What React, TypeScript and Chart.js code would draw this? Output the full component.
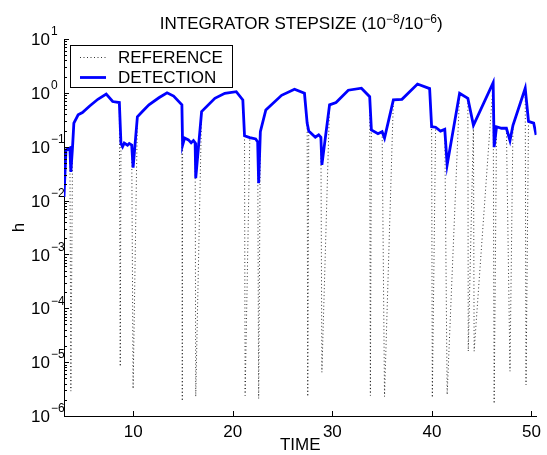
import { useEffect, useRef } from 'react';
import { Chart, registerables } from 'chart.js';

Chart.register(...registerables);

const FONT = "Arial, 'Liberation Sans', Helvetica, sans-serif";

const detectionTime = [3.05, 3.25, 3.64, 3.74, 3.91, 4.04, 4.47, 4.9, 5.63, 6.45, 7.29, 7.94, 8.61, 8.77, 8.93, 9.1, 9.43, 9.6, 9.85, 9.99, 10.42, 10.92, 11.58, 12.58, 13.4, 14.06, 14.89, 14.96, 15.16, 15.55, 15.82, 16.05, 16.22, 16.28, 16.87, 18.2, 19.2, 20.35, 21.01, 21.18, 21.71, 22.3, 22.5, 22.6, 22.77, 23.32, 24.9, 26.2, 27.2, 27.47, 27.63, 28.29, 28.63, 28.85, 28.95, 29.72, 30.37, 31.6, 32.92, 33.75, 33.92, 34.58, 35.0, 35.24, 36.13, 36.99, 38.55, 39.77, 39.97, 40.37, 40.86, 41.29, 41.53, 42.78, 43.61, 44.17, 46.15, 46.25, 46.49, 46.99, 47.48, 47.84, 48.14, 49.37, 49.7, 50.22, 50.46];
const detectionH = [0.0117, 0.087, 0.095, 0.034, 0.1, 0.275, 0.39, 0.43, 0.57, 0.76, 0.95, 0.69, 0.66, 0.115, 0.1, 0.117, 0.107, 0.115, 0.107, 0.041, 0.36, 0.45, 0.6, 0.81, 1.0, 0.87, 0.6, 0.107, 0.145, 0.134, 0.118, 0.13, 0.118, 0.026, 0.45, 0.79, 0.98, 1.05, 0.74, 0.16, 0.148, 0.139, 0.123, 0.021, 0.19, 0.48, 0.9, 1.17, 0.98, 0.275, 0.195, 0.15, 0.166, 0.15, 0.046, 0.6, 0.66, 1.12, 1.22, 0.85, 0.205, 0.174, 0.19, 0.144, 0.74, 0.76, 1.46, 1.2, 0.235, 0.23, 0.195, 0.21, 0.046, 0.98, 0.79, 0.25, 1.55, 0.098, 0.235, 0.22, 0.22, 0.13, 0.25, 1.22, 0.295, 0.275, 0.166];

const referenceTime = [3.05, 3.25, 3.64, 3.74, 3.91, 4.04, 4.47, 4.9, 5.63, 6.45, 7.29, 7.94, 8.61, 8.7, 8.77, 8.93, 9.1, 9.43, 9.6, 9.85, 9.99, 10.42, 10.92, 11.58, 12.58, 13.4, 14.06, 14.89, 14.93, 14.96, 15.16, 15.55, 15.82, 16.05, 16.22, 16.28, 16.87, 18.2, 19.2, 20.35, 21.01, 21.18, 21.24, 21.71, 22.3, 22.5, 22.6, 22.77, 23.32, 24.9, 26.2, 27.2, 27.47, 27.53, 27.63, 28.29, 28.63, 28.85, 28.95, 29.72, 30.37, 31.6, 32.92, 33.75, 33.82, 33.92, 34.58, 35.0, 35.24, 36.13, 36.99, 38.55, 39.77, 39.97, 40.04, 40.37, 40.86, 41.29, 41.53, 42.78, 43.61, 43.65, 44.17, 44.24, 46.15, 46.25, 46.49, 46.99, 47.48, 47.84, 48.14, 49.37, 49.45, 49.7, 50.22, 50.46];
const referenceH = [0.0117, 0.087, 0.095, 2.9e-6, 0.1, 0.275, 0.39, 0.43, 0.57, 0.76, 0.95, 0.69, 0.66, 8.3e-6, 0.115, 0.1, 0.117, 0.107, 0.115, 0.107, 3.2e-6, 0.36, 0.45, 0.6, 0.81, 1.0, 0.87, 0.6, 1.9e-6, 0.107, 0.145, 0.134, 0.118, 0.13, 0.118, 2.3e-6, 0.45, 0.79, 0.98, 1.05, 0.74, 0.16, 2.4e-6, 0.148, 0.139, 0.123, 2.1e-6, 0.19, 0.48, 0.9, 1.17, 0.98, 0.275, 2.3e-6, 0.195, 0.15, 0.166, 0.15, 6.5e-6, 0.6, 0.66, 1.12, 1.22, 0.85, 2.4e-6, 0.205, 0.174, 0.19, 2.3e-6, 0.74, 0.76, 1.46, 1.2, 0.235, 2.2e-6, 0.23, 0.195, 0.21, 2.5e-6, 0.98, 0.79, 1.6e-5, 0.25, 1.6e-5, 1.55, 1.7e-6, 0.235, 0.22, 0.22, 6.8e-6, 0.25, 1.22, 3.8e-6, 0.295, 0.275, 0.166];

const xTickValues = [10, 20, 30, 40, 50];
const yDecades = [-6, -5, -4, -3, -2, -1, 0, 1];
const seriesLabels = ['REFERENCE', 'DETECTION'];
const titleSegments = [
  { text: 'INTEGRATOR STEPSIZE (10', sup: false },
  { text: '\u22128', sup: true },
  { text: '/10', sup: false },
  { text: '\u22126', sup: true },
  { text: ')', sup: false },
];
const xAxisTitle = 'TIME';
const yAxisTitle = 'h';

const decorPlugin = {
  id: 'decor',
  afterDraw(chart: any) {
    const { ctx, chartArea, scales } = chart;
    const xs = scales.x;
    const ys = scales.y;
    ctx.save();
    // inward ticks
    ctx.strokeStyle = '#000';
    ctx.lineWidth = 1;
    ctx.beginPath();
    for (const v of xTickValues) {
      const px = Math.round(xs.getPixelForValue(v)) + 0.5;
      ctx.moveTo(px, chartArea.bottom);
      ctx.lineTo(px, chartArea.bottom - 5);
    }
    for (const d of yDecades) {
      for (let m = 1; m <= 9; m++) {
        const v = m * Math.pow(10, d);
        if (v > 10.0001) break;
        const py = Math.round(ys.getPixelForValue(v)) + 0.5;
        const len = m === 1 ? 5 : 3;
        ctx.moveTo(chartArea.left, py);
        ctx.lineTo(chartArea.left + len, py);
      }
    }
    ctx.stroke();

    // y tick labels with superscripts
    ctx.fillStyle = '#000';
    for (const d of yDecades) {
      const py = ys.getPixelForValue(Math.pow(10, d));
      ctx.font = `17px ${FONT}`;
      ctx.textAlign = 'right';
      ctx.textBaseline = 'middle';
      ctx.fillText('10', 50, py + 1.5);
      ctx.font = `12px ${FONT}`;
      ctx.textAlign = 'left';
      const exp = d < 0 ? '\u2212' + Math.abs(d) : String(d);
      ctx.fillText(exp, 51, py - 7);
    }

    // title
    const big = `17px ${FONT}`;
    const small = `12px ${FONT}`;
    let total = 0;
    for (const s of titleSegments) {
      ctx.font = s.sup ? small : big;
      total += ctx.measureText(s.text).width;
    }
    let tx = (chartArea.left + chartArea.right) / 2 - total / 2 + 1;
    ctx.textAlign = 'left';
    ctx.textBaseline = 'alphabetic';
    for (const s of titleSegments) {
      ctx.font = s.sup ? small : big;
      ctx.fillText(s.text, tx, s.sup ? 23 : 29);
      tx += ctx.measureText(s.text).width;
    }

    // legend
    const bx = 70.5, by = 45.5, bw = 162, bh = 42;
    ctx.fillStyle = '#fff';
    ctx.fillRect(bx, by, bw, bh);
    ctx.strokeStyle = '#000';
    ctx.lineWidth = 1;
    ctx.setLineDash([]);
    ctx.strokeRect(bx, by, bw, bh);
    const rows = [57, 77];
    chart.data.datasets.forEach((ds: any, i: number) => {
      const ly = rows[i];
      ctx.save();
      ctx.strokeStyle = ds.borderColor;
      ctx.lineWidth = ds.borderWidth;
      ctx.setLineDash(ds.borderDash || []);
      ctx.beginPath();
      ctx.moveTo(80, ly + 0.5);
      ctx.lineTo(106, ly + 0.5);
      ctx.stroke();
      ctx.restore();
      ctx.fillStyle = '#000';
      ctx.font = `17px ${FONT}`;
      ctx.textAlign = 'left';
      ctx.textBaseline = 'middle';
      ctx.fillText(ds.label, 118, ly + 1);
    });
    ctx.restore();
  },
};

export default function App() {
  const ref = useRef<HTMLCanvasElement | null>(null);
  useEffect(() => {
    if (!ref.current) return;
    const chart = new Chart(ref.current, {
      type: 'line',
      data: {
        datasets: [
          {
            label: seriesLabels[0],
            data: referenceTime.map((t, i) => ({ x: t, y: referenceH[i] })),
            borderColor: 'rgba(0,0,0,0.8)',
            borderWidth: 1,
            borderDash: [1, 2.5],
            pointRadius: 0,
            tension: 0,
            order: 1,
          },
          {
            label: seriesLabels[1],
            data: detectionTime.map((t, i) => ({ x: t, y: detectionH[i] })),
            borderColor: '#0000ff',
            borderWidth: 2.8,
            pointRadius: 0,
            tension: 0,
            order: 0,
          },
        ],
      },
      options: {
        animation: false,
        responsive: false,
        events: [],
        layout: { padding: { left: 0, top: 39, right: 5, bottom: 0 } },
        plugins: {
          legend: { display: false },
          title: { display: false },
          tooltip: { enabled: false },
        },
        scales: {
          x: {
            type: 'linear',
            min: 3.05,
            max: 50.5,
            afterBuildTicks: (scale: any) => {
              scale.ticks = xTickValues.map((v) => ({ value: v }));
            },
            afterFit: (scale: any) => {
              scale.height = 39;
            },
            grid: { display: true, drawOnChartArea: false, drawTicks: false },
            border: { display: true, color: '#000', width: 1 },
            ticks: {
              color: '#000',
              font: { family: FONT, size: 17 },
              padding: 6,
              autoSkip: false,
              maxRotation: 0,
              callback: (v: any) => String(v),
            },
            title: {
              display: true,
              text: xAxisTitle,
              color: '#000',
              font: { family: FONT, size: 17, lineHeight: 1.1 },
              padding: { top: 0, bottom: 0 },
            },
          },
          y: {
            type: 'logarithmic',
            min: 1e-6,
            max: 10,
            afterBuildTicks: (scale: any) => {
              scale.ticks = yDecades.map((d) => ({ value: Math.pow(10, d), major: true }));
            },
            afterFit: (scale: any) => {
              scale.width = 64;
            },
            grid: { display: true, drawOnChartArea: false, drawTicks: false },
            border: { display: true, color: '#000', width: 1 },
            ticks: { display: false },
            title: {
              display: true,
              text: yAxisTitle,
              color: '#000',
              font: { family: FONT, size: 17, lineHeight: 1.2 },
              padding: { top: 9, bottom: 0 },
            },
          },
        },
      },
      plugins: [decorPlugin],
    } as any);
    return () => chart.destroy();
  }, []);
  return (
    <div style={{ position: 'absolute', left: 0, top: 0, width: 547, height: 455, background: '#fff' }}>
      <canvas ref={ref} width={547} height={455} style={{ display: 'block' }} />
    </div>
  );
}
